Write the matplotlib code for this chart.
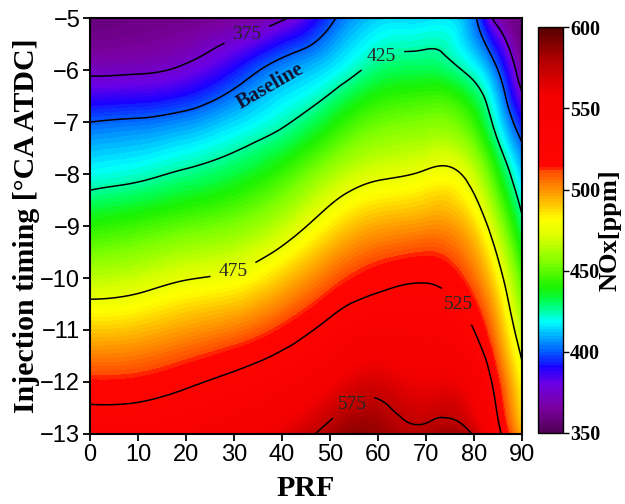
import numpy as np
import matplotlib
matplotlib.use("Agg")
import matplotlib.pyplot as plt
import matplotlib.tri as mtri
from matplotlib.colors import LinearSegmentedColormap

# PRF (x) and injection timing (y) of the grid
prf = [0, 10, 20, 30, 40, 50, 60, 70, 80, 85, 90]
timing = [-5, -6, -7, -8, -9, -10, -11, -12, -13]

# NOx [ppm], one row per injection timing
nox = [
    [358, 360, 361, 364, 373, 397, 413, 414, 403, 368, 360],
    [372, 373, 378, 391, 406, 416, 429, 432, 420, 400, 365],
    [400, 402, 406, 414, 423, 437, 451, 455, 443, 418, 391],
    [419, 422, 427, 433, 444, 461, 472, 477, 467, 440, 412],
    [441, 445, 450, 455, 466, 484, 496, 500, 488, 462, 429],
    [465, 468, 474, 478, 490, 507, 519, 523, 506, 482, 447],
    [490, 492, 498, 504, 515, 531, 543, 542, 525, 498, 465],
    [515, 516, 522, 530, 540, 556, 568, 560, 549, 515, 481],
    [538, 539, 545, 553, 563, 581, 585, 580, 573, 531, 494],
]

line_levels = [375, 425, 475, 525, 575]
baseline_level = 400
cbar_ticks = [350, 400, 450, 500, 550, 600]

# colour map similar to the Origin rainbow
stops = [
    (350, (0.30, 0.00, 0.33)),
    (365, (0.48, 0.00, 0.62)),
    (380, (0.42, 0.00, 0.90)),
    (390, (0.10, 0.00, 1.00)),
    (400, (0.00, 0.35, 1.00)),
    (410, (0.00, 0.70, 1.00)),
    (418, (0.00, 1.00, 1.00)),
    (430, (0.00, 1.00, 0.35)),
    (440, (0.10, 0.95, 0.00)),
    (455, (0.50, 1.00, 0.00)),
    (470, (0.85, 1.00, 0.00)),
    (482, (1.00, 1.00, 0.00)),
    (492, (1.00, 0.75, 0.00)),
    (502, (1.00, 0.52, 0.00)),
    (511, (1.00, 0.30, 0.00)),
    (514, (1.00, 0.02, 0.00)),
    (560, (0.95, 0.00, 0.00)),
    (580, (0.70, 0.00, 0.00)),
    (600, (0.32, 0.00, 0.00)),
]
cmap = LinearSegmentedColormap.from_list(
    "nox", [((v - 350) / 250, c) for v, c in stops])

X, Y = np.meshgrid(prf, timing)
Z = np.array(nox, dtype=float)
tri = mtri.Triangulation(X.ravel(), Y.ravel())
refiner = mtri.UniformTriRefiner(tri)
interp = mtri.CubicTriInterpolator(tri, Z.ravel())
tri_f, z_f = refiner.refine_field(Z.ravel(), triinterpolator=interp, subdiv=4)
z_f = np.clip(z_f, 350, 600)

fig = plt.figure(figsize=(6.25, 5.04), dpi=100)
ax = fig.add_axes([0.144, 0.139, 0.691, 0.825])
cax = fig.add_axes([0.861, 0.141, 0.04, 0.805])

cf = ax.tricontourf(tri_f, z_f, levels=np.linspace(350, 600, 126),
                    cmap=cmap, vmin=350, vmax=600)
cs = ax.tricontour(tri_f, z_f, levels=line_levels, colors="black", linewidths=1.1)
ax.tricontour(tri_f, z_f, levels=[baseline_level], colors="black", linewidths=1.1)

ax.clabel(cs, fmt="%d", inline=True, fontsize=14, colors="#262626",
          manual=[(33, -5.4), (61, -5.8), (30, -9.9), (77, -10.5), (55, -12.5)])
for t in cs.labelTexts:
    t.set_family("Liberation Serif")
    t.set_rotation(0)

ax.text(37.5, -6.3, "Baseline", rotation=30, ha="center", va="center",
        fontsize=15, fontweight="bold", family="Liberation Serif", color="#111133")

ax.set_xlim(0, 90)
ax.set_ylim(-13, -5)
ax.set_xticks(range(0, 91, 10))
ax.set_yticks(range(-13, -4))
ax.tick_params(direction="out", length=5, width=1.3, labelsize=17, pad=2)
for lab in ax.get_xticklabels() + ax.get_yticklabels():
    lab.set_family("Liberation Sans")
for s in ax.spines.values():
    s.set_linewidth(1.5)
ax.set_xlabel("PRF", fontsize=21.5, fontweight="bold", family="Liberation Serif", labelpad=7)
ax.set_ylabel("Injection timing [\u00b0CA ATDC]", fontsize=21.5, fontweight="bold",
              family="Liberation Serif", labelpad=0)

cb = fig.colorbar(cf, cax=cax, ticks=cbar_ticks)
cb.ax.tick_params(direction="out", length=4, width=1, labelsize=14.5, pad=1)
for lab in cb.ax.get_yticklabels():
    lab.set_family("Liberation Serif")
    lab.set_fontweight("bold")
cb.outline.set_linewidth(1)
cb.set_label("NOx[ppm]", fontsize=19, fontweight="bold", family="Liberation Serif", labelpad=-1)

fig.savefig("out.png", dpi=100)
